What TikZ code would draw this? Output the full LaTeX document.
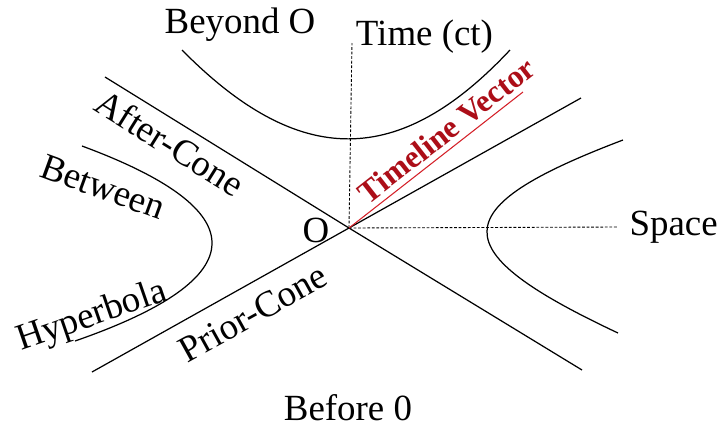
\documentclass[tikz,border=0pt]{standalone}
\usepackage{fontspec}
\setmainfont{Liberation Serif}
\definecolor{tlred}{RGB}{212,32,40}
\definecolor{tltext}{RGB}{172,14,24}
\begin{document}
\begin{tikzpicture}[line width=0.7pt,
    lbl/.style={font=\fontsize{21}{25}\selectfont, inner sep=0pt},
    dsh/.style={line width=0.5pt, dash pattern=on 1.6pt off 1pt}]
  \useasboundingbox (-6.98,-4.0) rectangle (7.44,4.56);
  % 原点
  \coordinate (O) at (0,0);
  % 光円錐 (After-Cone と Prior-Cone)
  \draw (-4.88,3.02) -- (O) -- (4.66,-2.84);
  \draw (-5.14,-2.88) -- (O) -- (4.64,2.60);
  % 時間軸と空間軸 (点線)
  \draw[dsh] (O) -- (0.06,3.70);
  \draw[dsh] (O) -- (5.38,0.02);
  % 双曲線 (上, 左, 右)
  \draw (-3.34,3.56) .. controls (-1.0,1.19) and (1.0,1.19) .. (3.22,3.56);
  \draw (-5.34,1.64) .. controls (-1.85,0.35) and (-1.85,-1.0) .. (-5.48,-2.26);
  \draw (5.48,1.76) .. controls (1.87,0.39) and (1.87,-0.45) .. (5.38,-2.10);
  % Timeline Vector (赤)
  \draw[tlred, line width=0.6pt] (O) -- (3.48,2.72)
    node[pos=0.62, sloped, above=3pt, inner sep=0pt, text=tltext,
      font=\fontsize{18}{22}\selectfont\bfseries] (tv) {Timeline Vector};
  % ラベル
  \node[lbl, anchor=base] (beyond) at (-2.18,3.90) {Beyond O};
  \node[lbl, anchor=base] (time) at (1.51,3.66) {Time (ct)};
  \node[lbl, anchor=base west] (space) at (5.60,-0.14) {Space};
  \node[lbl, anchor=base] (before) at (-0.02,-3.84) {Before 0};
  \node[lbl, anchor=base] (orig) at (-0.66,-0.28) {O};
  \node[lbl, rotate=-32] (after) at (-3.58,1.70) {After-Cone};
  \node[lbl, rotate=-20] (between) at (-4.92,0.82) {Between};
  \node[lbl, rotate=19] (hyper) at (-5.14,-1.78) {Hyperbola};
  \node[lbl, rotate=29] (prior) at (-1.92,-1.70) {Prior-Cone};
\end{tikzpicture}
\end{document}
